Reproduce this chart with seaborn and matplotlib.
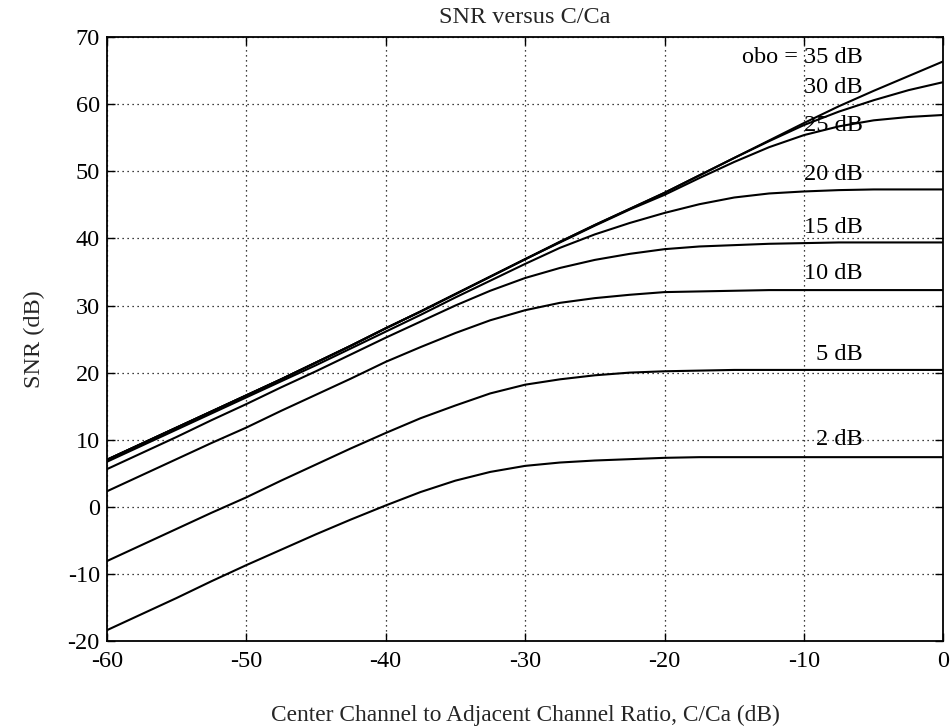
import numpy as np
import pandas as pd
import matplotlib
matplotlib.use("Agg")
import matplotlib.pyplot as plt
import seaborn as sns

# Center channel to adjacent channel ratio (dB)
c_ca = [-60, -57.5, -55, -52.5, -50, -47.5, -45, -42.5, -40, -37.5, -35, -32.5,
        -30, -27.5, -25, -22.5, -20, -17.5, -15, -12.5, -10, -7.5, -5, -2.5, 0]

# SNR (dB) for each output back-off
snr_obo35 = [7.0, 9.4, 11.8, 14.2, 16.6, 19.0, 21.5, 24.0, 26.6, 29.1, 31.7, 34.3,
             36.9, 39.5, 42.0, 44.4, 46.8, 49.4, 52.0, 54.6, 57.2, 59.7, 62.0, 64.2, 66.4]
snr_obo30 = [7.0, 9.4, 11.8, 14.2, 16.6, 19.0, 21.5, 24.0, 26.6, 29.1, 31.7, 34.3,
             36.9, 39.5, 42.0, 44.4, 46.8, 49.4, 52.0, 54.5, 56.9, 58.9, 60.6, 62.1, 63.3]
snr_obo25 = [7.0, 9.4, 11.8, 14.2, 16.6, 19.0, 21.5, 24.0, 26.6, 29.1, 31.7, 34.3,
             36.9, 39.4, 41.9, 44.3, 46.5, 49.0, 51.4, 53.6, 55.4, 56.7, 57.6, 58.1, 58.4]
snr_obo20 = [6.7, 9.1, 11.5, 13.9, 16.3, 18.7, 21.1, 23.6, 26.1, 28.6, 31.2, 33.7,
             36.2, 38.6, 40.6, 42.3, 43.8, 45.1, 46.1, 46.7, 47.0, 47.2, 47.3, 47.3, 47.3]
snr_obo15 = [5.6, 8.0, 10.4, 12.9, 15.3, 17.8, 20.2, 22.7, 25.2, 27.6, 30.0, 32.2,
             34.1, 35.6, 36.8, 37.7, 38.4, 38.8, 39.0, 39.2, 39.3, 39.4, 39.4, 39.4, 39.4]
snr_obo10 = [2.3, 4.7, 7.1, 9.5, 11.8, 14.3, 16.7, 19.1, 21.6, 23.8, 25.9, 27.8,
             29.3, 30.4, 31.1, 31.6, 32.0, 32.1, 32.2, 32.3, 32.3, 32.3, 32.3, 32.3, 32.3]
snr_obo5 = [-8.1, -5.7, -3.3, -0.9, 1.4, 3.9, 6.3, 8.7, 11.0, 13.2, 15.1, 16.9,
            18.2, 19.0, 19.6, 20.0, 20.2, 20.3, 20.4, 20.4, 20.4, 20.4, 20.4, 20.4, 20.4]
snr_obo2 = [-18.4, -16.0, -13.6, -11.1, -8.7, -6.4, -4.1, -1.9, 0.2, 2.2, 3.9, 5.2,
            6.1, 6.6, 6.9, 7.1, 7.3, 7.4, 7.4, 7.4, 7.4, 7.4, 7.4, 7.4, 7.4]

series = {35: snr_obo35, 30: snr_obo30, 25: snr_obo25, 20: snr_obo20,
          15: snr_obo15, 10: snr_obo10, 5: snr_obo5, 2: snr_obo2}

# Curve annotations: text, x, y (data coordinates)
label_text = ["obo = 35 dB", "30 dB", "25 dB", "20 dB", "15 dB", "10 dB", "5 dB", "2 dB"]
label_x = [-5.8] * 8
label_y = [66.9, 62.5, 56.8, 49.5, 41.7, 34.7, 22.7, 10.0]

x_ticks = [-60, -50, -40, -30, -20, -10, 0]
y_ticks = [-20, -10, 0, 10, 20, 30, 40, 50, 60, 70]

df = pd.concat(
    [pd.DataFrame({"cca": c_ca, "snr": vals, "obo": obo}) for obo, vals in series.items()],
    ignore_index=True,
)

sns.set_theme(style="white")
plt.rcParams["font.family"] = ["Liberation Serif", "DejaVu Serif"]

FS = 17.5

fig = plt.figure(figsize=(9.53, 7.28), dpi=100)
ax = fig.add_axes([0.112, 0.1195, 0.878, 0.8295])

sns.lineplot(data=df, x="cca", y="snr", units="obo", estimator=None,
             color="black", linewidth=1.5, ax=ax, legend=False, sort=True)

ax.set_xlim(-60, 0)
ax.set_ylim(-20, 70)
ax.set_xticks(x_ticks)
ax.set_yticks(y_ticks)
ax.set_xticklabels([str(t) for t in x_ticks])
ax.set_yticklabels([str(t) for t in y_ticks])

ax.grid(True, color="black", linestyle=(0, (1, 3)), linewidth=0.9)
for side in ["left", "right", "top", "bottom"]:
    ax.spines[side].set_visible(True)
    ax.spines[side].set_color("black")
    ax.spines[side].set_linewidth(1.3)

ax.tick_params(axis="both", which="both", direction="in", length=6, width=1.0,
               top=True, right=True, bottom=True, left=True,
               labelsize=FS, colors="black")
ax.tick_params(axis="x", pad=7)
ax.tick_params(axis="y", pad=5)

ax.set_title("SNR versus C/Ca", fontsize=FS, pad=10)
ax.set_xlabel("Center Channel to Adjacent Channel Ratio, C/Ca (dB)", fontsize=16.8, labelpad=24)
ax.set_ylabel("SNR (dB)", fontsize=FS, labelpad=16)

for txt, lx, ly in zip(label_text, label_x, label_y):
    ax.text(lx, ly, txt, fontsize=FS, ha="right", va="center", color="black")

fig.savefig("out.png", dpi=100)
